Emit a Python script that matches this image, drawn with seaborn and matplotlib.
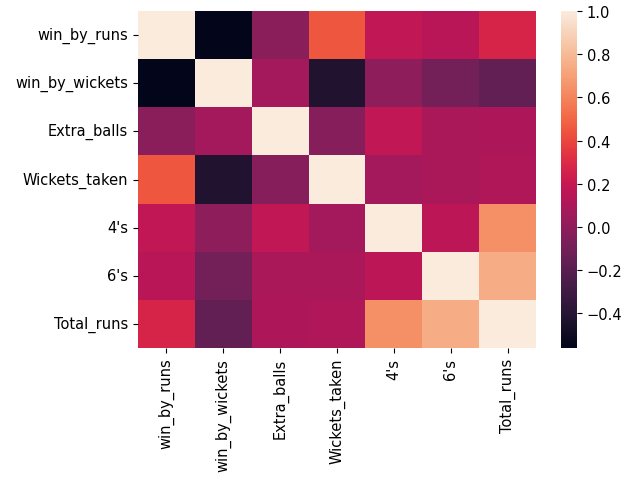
import numpy as np
import pandas as pd
import matplotlib
matplotlib.use("Agg")
import matplotlib.pyplot as plt
import seaborn as sns

columns = ["win_by_runs", "win_by_wickets", "Extra_balls", "Wickets_taken",
           "4's", "6's", "Total_runs"]

win_by_runs    = [1.00, -0.56, -0.02,  0.45,  0.18,  0.15,  0.27]
win_by_wickets = [-0.56, 1.00,  0.07, -0.42,  0.00, -0.10, -0.17]
extra_balls    = [-0.02, 0.07,  1.00, -0.03,  0.18,  0.10,  0.11]
wickets_taken  = [0.45, -0.42, -0.03,  1.00,  0.07,  0.10,  0.12]
fours          = [0.18,  0.00,  0.18,  0.07,  1.00,  0.16,  0.64]
sixes          = [0.15, -0.10,  0.10,  0.10,  0.16,  1.00,  0.75]
total_runs     = [0.27, -0.17,  0.11,  0.12,  0.64,  0.75,  1.00]

corr = pd.DataFrame([win_by_runs, win_by_wickets, extra_balls, wickets_taken,
                     fours, sixes, total_runs],
                    index=columns, columns=columns)

plt.rcParams["font.size"] = 10.5

W, H = 622, 481
fig = plt.figure(figsize=(W / 100, H / 100), dpi=100)
ax = fig.add_axes([138 / W, 132 / H, 398 / W, 337 / H])
cax = fig.add_axes([561 / W, 132 / H, 16 / W, 337 / H])
sns.heatmap(corr, ax=ax, cbar_ax=cax)
fig.savefig("out.png", dpi=100)
